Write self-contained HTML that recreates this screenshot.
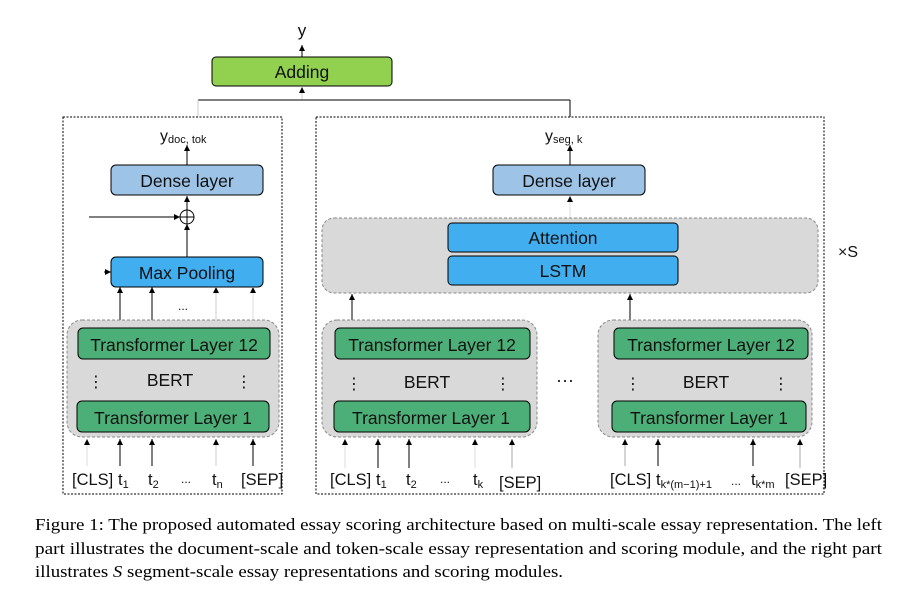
<!DOCTYPE html>
<html><head><meta charset="utf-8"><style>
html,body{margin:0;padding:0;background:#fff;width:907px;height:591px;overflow:hidden}
svg{display:block}
.s{font-family:"Liberation Sans","DejaVu Sans",sans-serif;fill:#111}
.b{font-size:17.5px}
.c{font-family:"Liberation Serif",serif;font-size:16.5px;fill:#000}
</style></head><body>
<svg width="907" height="591" viewBox="0 0 907 591" xmlns="http://www.w3.org/2000/svg">
<defs>
<marker id="a" markerWidth="6" markerHeight="6" refX="6" refY="3" orient="auto" markerUnits="userSpaceOnUse">
<path d="M0,0 L6,3 L0,6 Z" fill="#000"/></marker>
<marker id="ar" markerWidth="6" markerHeight="6" refX="6" refY="3" orient="auto" markerUnits="userSpaceOnUse">
<path d="M0,0 L6,3 L0,6 Z" fill="#000"/></marker>
</defs>

<!-- top -->
<text x="302" y="36" class="s" font-size="17" text-anchor="middle">y</text>
<line x1="302" y1="57" x2="302" y2="45" stroke="#000" marker-end="url(#a)"/>
<rect x="212" y="57" width="180" height="29" rx="4" fill="#92d050" stroke="#000" stroke-width="1"/>
<text x="302" y="78" class="s b" text-anchor="middle">Adding</text>
<line x1="302" y1="100" x2="302" y2="87" stroke="#ccc" marker-end="url(#a)"/>
<line x1="198" y1="100" x2="570" y2="100" stroke="#000"/>
<line x1="198" y1="100" x2="198" y2="117" stroke="#ccc"/>
<line x1="570" y1="100" x2="570" y2="117" stroke="#000"/>

<!-- left dashed box -->
<rect x="63" y="117" width="219" height="377" fill="none" stroke="#000" stroke-dasharray="2,1.5"/>
<text x="160" y="141" class="s" font-size="16">y<tspan font-size="11" dy="2">doc, tok</tspan></text>
<line x1="187" y1="165" x2="187" y2="145" stroke="#000" marker-end="url(#a)"/>
<rect x="111" y="165" width="152" height="30" rx="5" fill="#9dc3e6" stroke="#000"/>
<text x="187" y="187" class="s b" text-anchor="middle">Dense layer</text>
<line x1="187" y1="210" x2="187" y2="196" stroke="#000" marker-end="url(#a)"/>
<circle cx="187" cy="217" r="7" fill="#fff" stroke="#000"/>
<line x1="180" y1="217" x2="194" y2="217" stroke="#000"/>
<line x1="187" y1="210" x2="187" y2="224" stroke="#000"/>
<line x1="89" y1="217" x2="180" y2="217" stroke="#000" marker-end="url(#ar)"/>
<line x1="187" y1="257" x2="187" y2="224" stroke="#000" marker-end="url(#a)"/>
<line x1="104" y1="272" x2="111" y2="272" stroke="#000" marker-end="url(#ar)"/>
<rect x="111" y="257" width="152" height="30" rx="5" fill="#41aef0" stroke="#000"/>
<text x="187" y="279" class="s b" text-anchor="middle">Max Pooling</text>
<line x1="120" y1="320" x2="120" y2="287" stroke="#000" marker-end="url(#a)"/>
<line x1="152" y1="320" x2="152" y2="287" stroke="#000" marker-end="url(#a)"/>
<line x1="216" y1="320" x2="216" y2="287" stroke="#ccc" marker-end="url(#a)"/>
<line x1="253" y1="320" x2="253" y2="287" stroke="#ddd" marker-end="url(#a)"/>
<text x="183" y="310" class="s" font-size="12" text-anchor="middle">...</text>

<!-- BERT left -->
<rect x="67" y="320" width="212" height="117" rx="15" fill="#d9d9d9" stroke="#888" stroke-dasharray="3,2"/>
<rect x="78" y="328" width="192" height="31" rx="5" fill="#4caf78" stroke="#000"/>
<text x="174" y="351" class="s b" text-anchor="middle">Transformer Layer 12</text>
<text x="170" y="386" class="s b" text-anchor="middle">BERT</text>
<text x="96" y="387" class="s" font-size="16" text-anchor="middle">⋮</text>
<text x="244" y="387" class="s" font-size="16" text-anchor="middle">⋮</text>
<rect x="77" y="401" width="192" height="31" rx="5" fill="#4caf78" stroke="#000"/>
<text x="173" y="424" class="s b" text-anchor="middle">Transformer Layer 1</text>
<line x1="87" y1="466" x2="87" y2="439" stroke="#ddd" marker-end="url(#a)"/>
<line x1="120" y1="466" x2="120" y2="439" stroke="#000" marker-end="url(#a)"/>
<line x1="152" y1="466" x2="152" y2="439" stroke="#000" marker-end="url(#a)"/>
<line x1="216" y1="466" x2="216" y2="439" stroke="#ccc" marker-end="url(#a)"/>
<line x1="253" y1="466" x2="253" y2="439" stroke="#000" marker-end="url(#a)"/>
<g class="s" font-size="16.5">
<text x="72" y="485">[CLS]</text>
<text x="118" y="485">t<tspan font-size="11" dy="3">1</tspan></text>
<text x="148" y="485">t<tspan font-size="11" dy="3">2</tspan></text>
<text x="181" y="483" font-size="12">...</text>
<text x="212" y="485">t<tspan font-size="11" dy="3">n</tspan></text>
<text x="241" y="485">[SEP]</text>
</g>

<!-- right dashed box -->
<rect x="316" y="117" width="508" height="377" fill="none" stroke="#000" stroke-dasharray="2,1.5"/>
<text x="545" y="141" class="s" font-size="16">y<tspan font-size="11" dy="2">seg, k</tspan></text>
<line x1="570" y1="165" x2="570" y2="145" stroke="#000" marker-end="url(#a)"/>
<rect x="493" y="165" width="152" height="30" rx="5" fill="#9dc3e6" stroke="#000"/>
<text x="569" y="187" class="s b" text-anchor="middle">Dense layer</text>
<line x1="570" y1="218" x2="570" y2="196" stroke="#ddd" marker-end="url(#a)"/>
<rect x="322" y="218" width="496" height="75" rx="12" fill="#d9d9d9" stroke="#888" stroke-dasharray="3,2"/>
<rect x="448" y="223" width="230" height="29" rx="4" fill="#41aef0" stroke="#000"/>
<text x="563" y="244" class="s b" text-anchor="middle">Attention</text>
<rect x="448" y="256" width="230" height="29" rx="4" fill="#41aef0" stroke="#000"/>
<text x="563" y="277" class="s b" text-anchor="middle">LSTM</text>
<text x="838" y="257" class="s" font-size="16">×S</text>
<line x1="352" y1="320" x2="352" y2="294" stroke="#000" marker-end="url(#a)"/>
<line x1="630" y1="320" x2="630" y2="294" stroke="#000" marker-end="url(#a)"/>

<!-- BERT middle -->
<rect x="322" y="320" width="215" height="117" rx="15" fill="#d9d9d9" stroke="#888" stroke-dasharray="3,2"/>
<rect x="335" y="328" width="195" height="31" rx="5" fill="#4caf78" stroke="#000"/>
<text x="432" y="351" class="s b" text-anchor="middle">Transformer Layer 12</text>
<text x="427" y="388" class="s b" text-anchor="middle">BERT</text>
<text x="354" y="389" class="s" font-size="16" text-anchor="middle">⋮</text>
<text x="503" y="389" class="s" font-size="16" text-anchor="middle">⋮</text>
<rect x="334" y="401" width="196" height="31" rx="5" fill="#4caf78" stroke="#000"/>
<text x="431" y="424" class="s b" text-anchor="middle">Transformer Layer 1</text>
<line x1="345" y1="468" x2="345" y2="439" stroke="#ddd" marker-end="url(#a)"/>
<line x1="378" y1="468" x2="378" y2="439" stroke="#000" marker-end="url(#a)"/>
<line x1="409" y1="468" x2="409" y2="439" stroke="#000" marker-end="url(#a)"/>
<line x1="475" y1="468" x2="475" y2="439" stroke="#ddd" marker-end="url(#a)"/>
<line x1="512" y1="468" x2="512" y2="439" stroke="#aaa" marker-end="url(#a)"/>
<g class="s" font-size="16.5">
<text x="330" y="485">[CLS]</text>
<text x="376" y="485">t<tspan font-size="11" dy="3">1</tspan></text>
<text x="406" y="485">t<tspan font-size="11" dy="3">2</tspan></text>
<text x="440" y="483" font-size="12">...</text>
<text x="473" y="485">t<tspan font-size="11" dy="3">k</tspan></text>
<text x="499" y="488">[SEP]</text>
</g>

<text x="565" y="386" class="s" font-size="18" text-anchor="middle">···</text>

<!-- BERT right -->
<rect x="598" y="320" width="214" height="117" rx="15" fill="#d9d9d9" stroke="#888" stroke-dasharray="3,2"/>
<rect x="614" y="328" width="194" height="31" rx="5" fill="#4caf78" stroke="#000"/>
<text x="711" y="351" class="s b" text-anchor="middle">Transformer Layer 12</text>
<text x="706" y="388" class="s b" text-anchor="middle">BERT</text>
<text x="633" y="389" class="s" font-size="16" text-anchor="middle">⋮</text>
<text x="781" y="389" class="s" font-size="16" text-anchor="middle">⋮</text>
<rect x="612" y="401" width="194" height="31" rx="5" fill="#4caf78" stroke="#000"/>
<text x="709" y="424" class="s b" text-anchor="middle">Transformer Layer 1</text>
<line x1="625" y1="466" x2="625" y2="439" stroke="#aaa" marker-end="url(#a)"/>
<line x1="658" y1="466" x2="658" y2="439" stroke="#000" marker-end="url(#a)"/>
<line x1="753" y1="466" x2="753" y2="439" stroke="#000" marker-end="url(#a)"/>
<line x1="800" y1="468" x2="800" y2="439" stroke="#aaa" marker-end="url(#a)"/>
<g class="s" font-size="16.5">
<text x="610" y="485">[CLS]</text>
<text x="656" y="485">t<tspan font-size="11" dy="3">k*(m−1)+1</tspan></text>
<text x="731" y="485" font-size="12">...</text>
<text x="751" y="485">t<tspan font-size="11" dy="3">k*m</tspan></text>
<text x="785" y="485">[SEP]</text>
</g>

<!-- caption -->
<text x="35" y="530" class="c" textLength="847" lengthAdjust="spacingAndGlyphs">Figure 1: The proposed automated essay scoring architecture based on multi-scale essay representation. The left</text>
<text x="35" y="554" class="c" textLength="847" lengthAdjust="spacingAndGlyphs">part illustrates the document-scale and token-scale essay representation and scoring module, and the right part</text>
<text x="35" y="577" class="c" textLength="528" lengthAdjust="spacingAndGlyphs">illustrates <tspan font-style="italic">S</tspan> segment-scale essay representations and scoring modules.</text>
</svg>
</body></html>
